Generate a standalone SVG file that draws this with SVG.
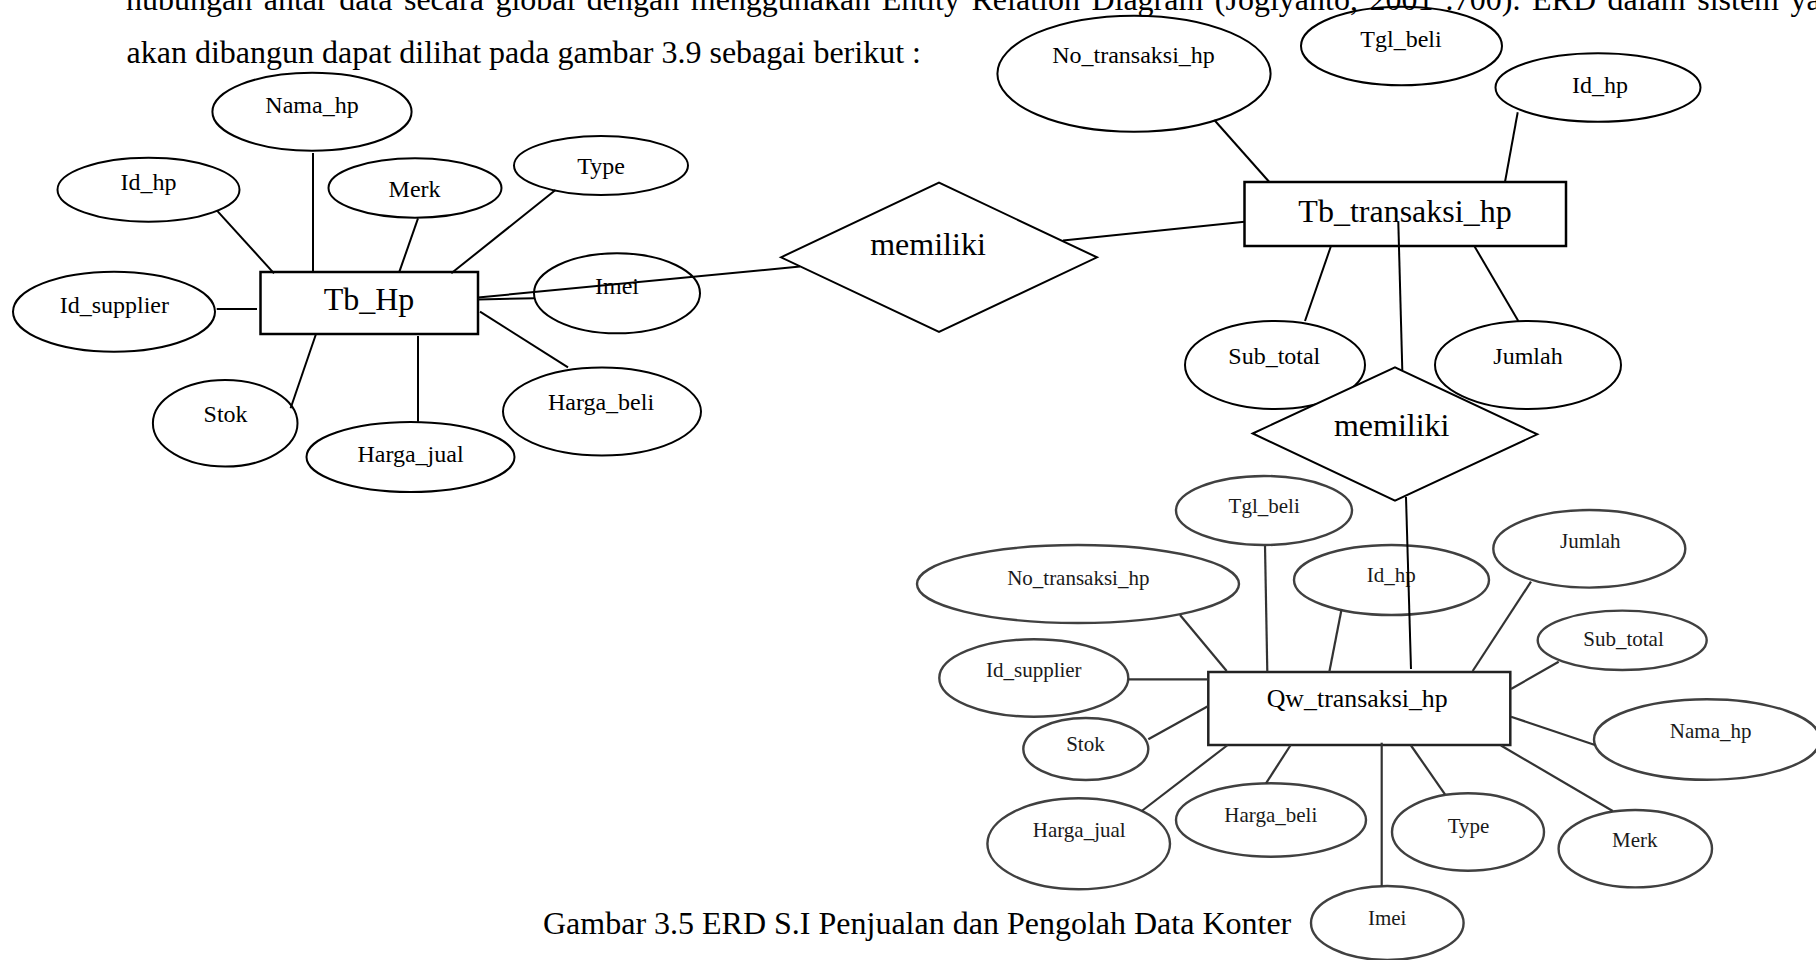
<svg xmlns="http://www.w3.org/2000/svg" width="1816" height="960" viewBox="0 0 1816 960">
<style>
.ln{stroke:#000;stroke-width:2;fill:none}
.lq{stroke:#333;stroke-width:2.2;fill:none}
.el{fill:none;stroke:#000;stroke-width:2}
.eq{fill:none;stroke:#404040;stroke-width:2.4}
.box{fill:none;stroke:#000;stroke-width:2.5}
.boxq{fill:none;stroke:#222;stroke-width:2.5}
.dia{fill:#fff;stroke:#000;stroke-width:2}
.t{font-family:"Liberation Serif","Times New Roman",serif;fill:#000;text-anchor:middle}
.s24{font-size:24px}
.s32{font-size:32px}
.q{font-size:21px;fill:#1a1a1a}
.hd{font-family:"Liberation Serif","Times New Roman",serif;font-size:32px;fill:#000}
</style>
<rect width="1816" height="960" fill="#fff"/>
<g id="header">
<text class="hd" x="126" y="10" word-spacing="3.5">hubungan antar data secara global dengan menggunakan Entity Relation Diagram (Jogiyanto, 2001 :700). ERD dalam sistem yang</text>
<text class="hd" x="126.5" y="63">akan dibangun dapat dilihat pada gambar 3.9 sebagai berikut :</text>
</g>
<g id="caption">
<text class="hd" x="543" y="934">Gambar 3.5 ERD S.I Penjualan dan Pengolah Data Konter</text>
</g>

<!-- Tb_Hp entity and attributes -->
<g id="tbhp"><rect class="box" x="260.5" y="272" width="217.5" height="62"/><text class="t s32" x="369" y="310">Tb_Hp</text></g>
<g id="tbhp-nama"><ellipse class="el" cx="312" cy="111.7" rx="99.6" ry="39"/><text class="t s24" x="312" y="113.3">Nama_hp</text></g>
<g id="tbhp-id"><ellipse class="el" cx="148.5" cy="189.7" rx="91" ry="32"/><text class="t s24" x="148.5" y="190">Id_hp</text></g>
<g id="tbhp-merk"><ellipse class="el" cx="415" cy="188" rx="86.5" ry="29.7"/><text class="t s24" x="414.6" y="196.7">Merk</text></g>
<g id="tbhp-type"><ellipse class="el" cx="601" cy="165.5" rx="87" ry="29.5"/><text class="t s24" x="601" y="173.5">Type</text></g>
<g id="tbhp-supplier"><ellipse class="el" cx="114" cy="311.7" rx="101" ry="40"/><text class="t s24" x="114.3" y="312.7">Id_supplier</text></g>
<g id="tbhp-stok"><ellipse class="el" cx="225.2" cy="423.3" rx="72.3" ry="43.3"/><text class="t s24" x="225.6" y="421.7">Stok</text></g>
<g id="tbhp-hjual"><ellipse class="el" cx="410.5" cy="457" rx="104" ry="35"/><text class="t s24" x="410.5" y="461.7">Harga_jual</text></g>
<g id="tbhp-hbeli"><ellipse class="el" cx="602" cy="411.5" rx="99" ry="44"/><text class="t s24" x="601" y="410">Harga_beli</text></g>
<g id="tbhp-imei"><ellipse class="el" cx="617" cy="293.3" rx="83" ry="40"/><text class="t s24" x="617" y="294.3">Imei</text></g>

<g id="rel1"><polygon class="dia" points="781,257.3 939,182.7 1097,257.3 939,332"/><text class="t s32" x="928" y="255">memiliki</text></g>

<!-- Tb_transaksi_hp -->
<g id="tbtr-no"><ellipse class="el" cx="1134" cy="73.7" rx="136.6" ry="58"/><text class="t s24" x="1133.5" y="62.7">No_transaksi_hp</text></g>
<g id="tbtr-tgl"><ellipse class="el" cx="1401.5" cy="46" rx="100.5" ry="39.3"/><text class="t s24" x="1401" y="47">Tgl_beli</text></g>
<g id="tbtr-id"><ellipse class="el" cx="1598" cy="87.5" rx="102.5" ry="34.2"/><text class="t s24" x="1600" y="93">Id_hp</text></g>
<g id="tbtr-sub"><ellipse class="el" cx="1275" cy="365" rx="90" ry="44"/><text class="t s24" x="1274.3" y="364.3">Sub_total</text></g>
<g id="tbtr-jml"><ellipse class="el" cx="1528" cy="365" rx="93" ry="44"/><text class="t s24" x="1528" y="364.3">Jumlah</text></g>
<g id="tbtr"><rect class="box" x="1244.5" y="182" width="321.5" height="64"/><text class="t s32" x="1405" y="222">Tb_transaksi_hp</text></g>

<g id="rel2"><polygon class="dia" points="1252.7,433.5 1395,367.3 1537.3,434.3 1395,500.7"/><text class="t s32" x="1391.7" y="436">memiliki</text></g>

<!-- Qw_transaksi_hp -->
<g id="qw"><rect class="boxq" x="1208.3" y="672" width="302" height="73"/><text class="t" style="font-size:26px" x="1357.2" y="706.7" textLength="181" lengthAdjust="spacingAndGlyphs">Qw_transaksi_hp</text></g>
<g id="qw-tgl"><ellipse class="eq" cx="1264" cy="510.5" rx="88" ry="34.5"/><text class="t q" x="1264.2" y="513.3">Tgl_beli</text></g>
<g id="qw-no"><ellipse class="eq" cx="1078" cy="584" rx="161" ry="39"/><text class="t q" x="1078.3" y="585">No_transaksi_hp</text></g>
<g id="qw-supplier"><ellipse class="eq" cx="1033.8" cy="678" rx="94.5" ry="38.7"/><text class="t q" x="1033.8" y="676.7">Id_supplier</text></g>
<g id="qw-stok"><ellipse class="eq" cx="1085.8" cy="749" rx="62.5" ry="31"/><text class="t q" x="1085.4" y="750.7">Stok</text></g>
<g id="qw-hjual"><ellipse class="eq" cx="1078.7" cy="843.8" rx="91.3" ry="45.5"/><text class="t q" x="1079.2" y="836.7">Harga_jual</text></g>
<g id="qw-hbeli"><ellipse class="eq" cx="1271" cy="820" rx="95" ry="36.7"/><text class="t q" x="1270.8" y="821.7">Harga_beli</text></g>
<g id="qw-id"><ellipse class="eq" cx="1391.5" cy="580" rx="97.5" ry="35"/><text class="t q" x="1391.2" y="581.7">Id_hp</text></g>
<g id="qw-jml"><ellipse class="eq" cx="1589.3" cy="548.8" rx="96" ry="38.8"/><text class="t q" x="1590.3" y="548.3">Jumlah</text></g>
<g id="qw-sub"><ellipse class="eq" cx="1622.2" cy="640.3" rx="84.5" ry="29.7"/><text class="t q" x="1623.5" y="645.7">Sub_total</text></g>
<g id="qw-nama"><ellipse class="eq" cx="1707" cy="739.5" rx="113" ry="40.3"/><text class="t q" x="1710.7" y="738.3">Nama_hp</text></g>
<g id="qw-type"><ellipse class="eq" cx="1468" cy="832" rx="76" ry="38.7"/><text class="t q" x="1468.5" y="832.7">Type</text></g>
<g id="qw-merk"><ellipse class="eq" cx="1635.3" cy="848.7" rx="76.7" ry="38.7"/><text class="t q" x="1634.8" y="846.7">Merk</text></g>
<g id="qw-imei"><ellipse class="eq" cx="1387.3" cy="923" rx="76.3" ry="37"/><text class="t q" x="1387.2" y="925">Imei</text></g>

<g id="connectors">
<line class="ln" x1="313" y1="153" x2="313" y2="273"/>
<line class="ln" x1="217" y1="210.7" x2="274" y2="273.3"/>
<line class="ln" x1="418" y1="218.3" x2="399.4" y2="271.7"/>
<line class="ln" x1="555.5" y1="190" x2="451.3" y2="273.3"/>
<line class="ln" x1="216.7" y1="309" x2="257" y2="309"/>
<line class="ln" x1="316" y1="334" x2="290.6" y2="408.3"/>
<line class="ln" x1="418" y1="336" x2="418" y2="421.7"/>
<line class="ln" x1="480" y1="311.7" x2="568" y2="367.3"/>
<line class="ln" x1="478" y1="299.5" x2="535" y2="298.3"/>
<line class="ln" x1="478" y1="297.5" x2="800" y2="266.5"/>
<line class="ln" x1="1063" y1="240.5" x2="1244.5" y2="221.7"/>
<line class="ln" x1="1214.3" y1="120" x2="1269.3" y2="182"/>
<line class="ln" x1="1517.7" y1="112.3" x2="1505" y2="182"/>
<line class="ln" x1="1331" y1="246" x2="1305" y2="321"/>
<line class="ln" x1="1474.3" y1="246" x2="1518.3" y2="321"/>
<line class="ln" x1="1398.3" y1="222" x2="1402.3" y2="370"/>
<line class="ln" x1="1406" y1="497" x2="1411" y2="669"/>
<line class="lq" x1="1180" y1="615" x2="1226.7" y2="671"/>
<line class="lq" x1="1265" y1="545.5" x2="1267.3" y2="671.5"/>
<line class="lq" x1="1341.5" y1="609.5" x2="1329.3" y2="672"/>
<line class="lq" x1="1531" y1="581.7" x2="1472.7" y2="671"/>
<line class="lq" x1="1558.7" y1="661.7" x2="1511" y2="689"/>
<line class="lq" x1="1595" y1="745" x2="1511" y2="716.7"/>
<line class="lq" x1="1612.7" y1="811" x2="1501" y2="745.5"/>
<line class="lq" x1="1445" y1="794.3" x2="1411" y2="745.5"/>
<line class="lq" x1="1381.7" y1="886.5" x2="1381.7" y2="742.7"/>
<line class="lq" x1="1266" y1="783.3" x2="1290.7" y2="745"/>
<line class="lq" x1="1141.7" y1="811" x2="1227.7" y2="745"/>
<line class="lq" x1="1148.3" y1="739.3" x2="1208.3" y2="706"/>
<line class="lq" x1="1128.3" y1="679.3" x2="1208.3" y2="679.3"/>
</g>
</svg>
